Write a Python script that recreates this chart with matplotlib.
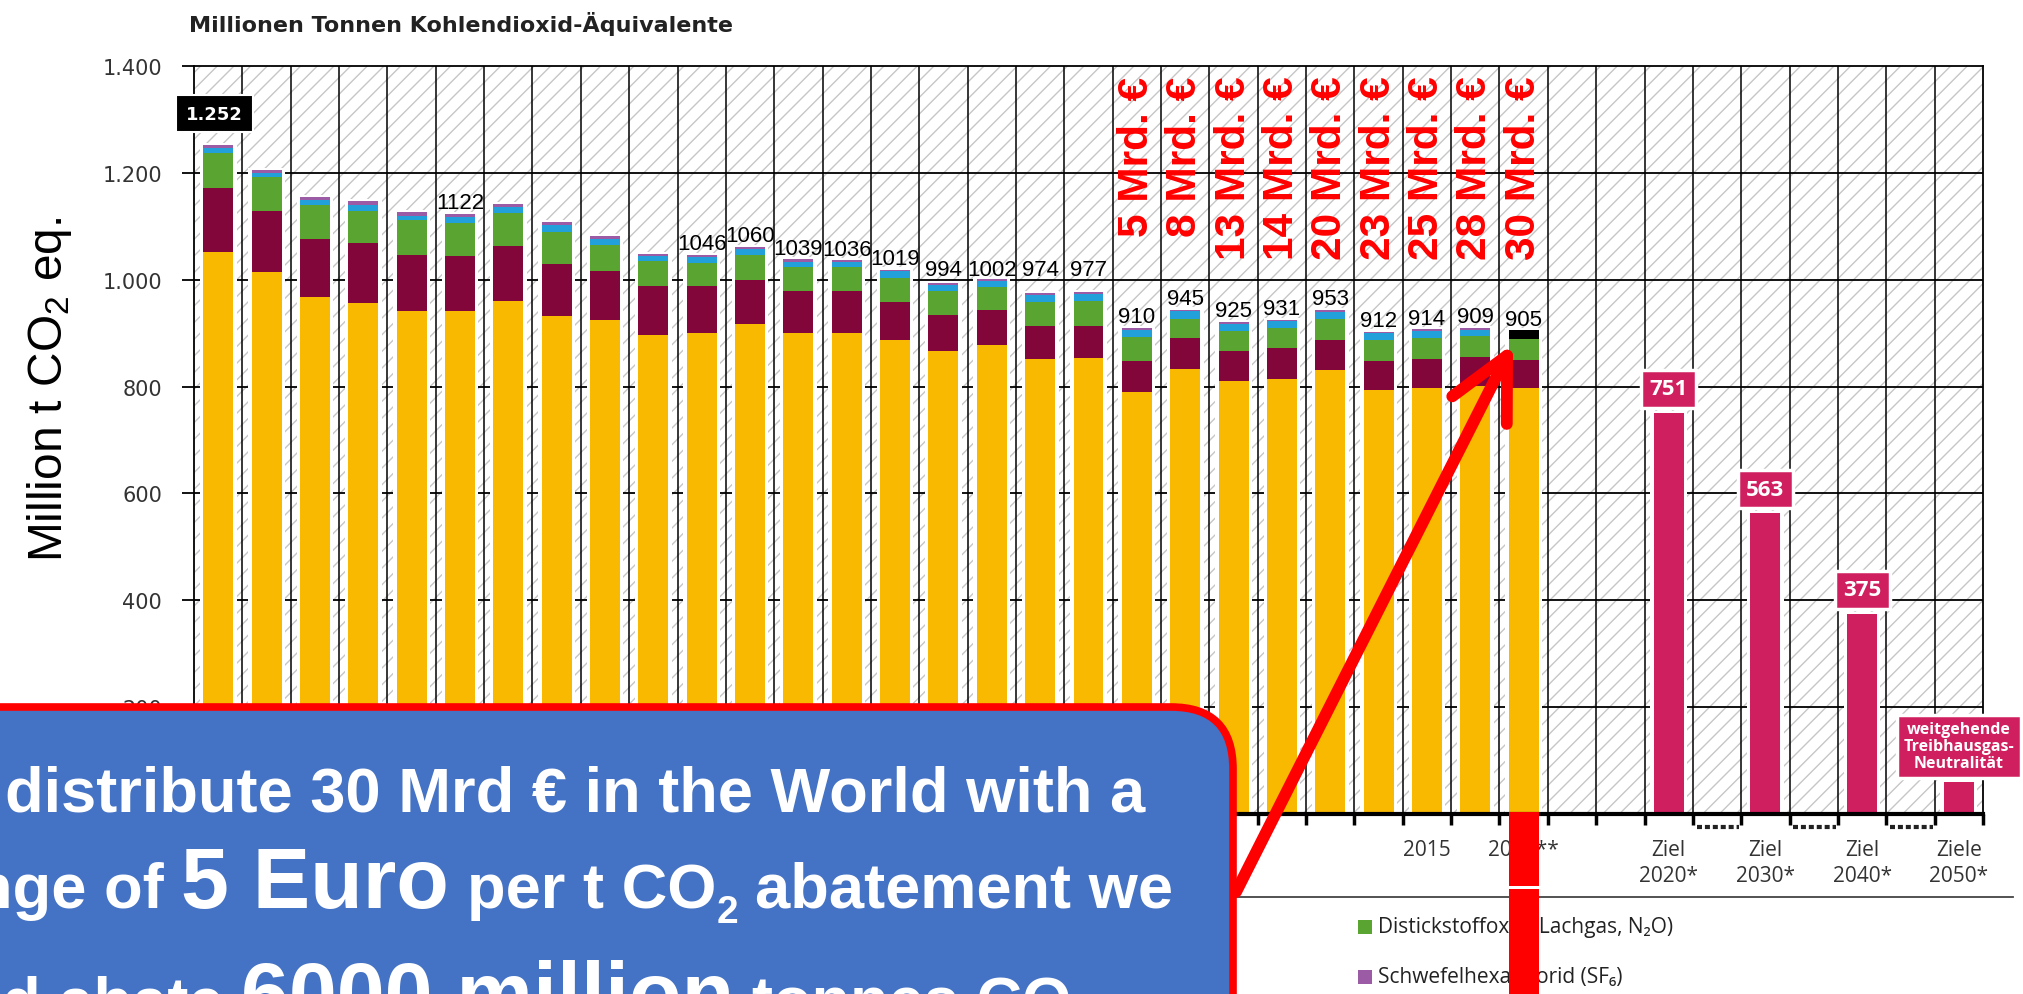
import numpy as np
import matplotlib.pyplot as plt
from matplotlib.patches import Rectangle, FancyBboxPatch, FancyArrowPatch

plt.rcParams['hatch.linewidth'] = 1.0
plt.rcParams['mathtext.fontset'] = 'custom'
plt.rcParams['mathtext.rm'] = 'Liberation Sans'

# Treibhausgas-Emissionen nach Gas, Mio t CO2-Aequivalente
years = list(range(1990, 2018))
co2 = [1052, 1014, 967, 956, 941, 941, 961, 932, 925, 897, 901, 917, 901, 901,
       887, 867, 878, 852, 854, 789, 832, 810, 814, 831, 794, 797, 802, 798]
ch4 = [120, 115, 110, 112, 106, 104, 102, 97, 92, 91, 87, 83, 78, 77,
       71, 67, 65, 62, 60, 58, 59, 56, 58, 56, 54, 54, 54, 52]
n2o = [66, 64, 63, 61, 64, 61, 62, 61, 48, 47, 43, 47, 44, 45,
       46, 44, 43, 45, 47, 45, 36, 38, 37, 40, 39, 40, 38, 39]
hfc = [8, 7, 9, 11, 9, 11, 11, 12, 11, 9, 11, 10, 11, 10,
       12, 13, 12, 13, 13, 14, 14, 14, 13, 13, 13, 13, 12, 0]
sf6 = [6, 5, 6, 7, 6, 6, 6, 6, 5, 4, 4, 4, 4, 3,
       3, 3, 3, 3, 3, 3, 3, 3, 3, 3, 3, 3, 3, 0]
estimate = [0] * 27 + [16]   # 2017** Schaetzung, schwarz

value_label_years = [1995, 2000, 2001, 2002, 2003, 2004, 2005, 2006, 2007, 2008,
                     2009, 2010, 2011, 2012, 2013, 2014, 2015, 2016, 2017]
value_labels = ['1122', '1046', '1060', '1039', '1036', '1019', '994', '1002', '974', '977',
                '910', '945', '925', '931', '953', '912', '914', '909', '905']

cost_years = list(range(2009, 2018))
cost_labels = ['5 Mrd. €', '8 Mrd. €', '13 Mrd. €', '14 Mrd. €', '20 Mrd. €',
               '23 Mrd. €', '25 Mrd. €', '28 Mrd. €', '30 Mrd. €']

# nur die sichtbaren Jahreslabels (der Rest liegt unter der blauen Box)
tick_years = [2015, 2017]
tick_labels = ['2015', '2017**']

target_names = ['Ziel\n2020*', 'Ziel\n2030*', 'Ziel\n2040*', 'Ziele\n2050*']
target_values = [751, 563, 375, 60]
target_labels = ['751', '563', '375', 'weitgehende\nTreibhausgas-\nNeutralität']

legend_names = ['Distickstoffoxid (Lachgas, N₂O)', 'Schwefelhexafluorid (SF₆)']

C_CO2 = '#F9B900'
C_CH4 = '#83063A'
C_N2O = '#5AA532'
C_HFC = '#22A0DA'
C_SF6 = '#9B5BA5'
C_TARGET = '#CF1F5E'
RED = '#FF0000'

W, H = 2023, 995
fig = plt.figure(figsize=(W / 100, H / 100), dpi=100)
renderer = fig.canvas.get_renderer()

n = len(years)
x = np.arange(n)
tx = n + 2 + 2 * np.arange(len(target_values))
ncols = tx[-1] + 1
bw = 0.62

ax = fig.add_axes([194 / W, 1 - 815 / H, 1789 / W, 748 / H])
ax.set_xlim(-0.5, ncols - 0.5)
ax.set_ylim(0, 1400)

# schraffierter Hintergrund + Raster
ax.add_patch(Rectangle((0, 0), 1, 1, transform=ax.transAxes, facecolor='white',
                       edgecolor='#c6c6c6', hatch='//', lw=0, zorder=0))
for yv in range(200, 1400, 200):
    ax.axhline(yv, color='black', lw=1.3, zorder=1)
for b in np.arange(0.5, ncols - 1, 1):
    ax.axvline(b, color='black', lw=1.1, zorder=1)

# gestapelte Balken
totals = np.sum([co2, ch4, n2o, hfc, sf6, estimate], axis=0)
ax.bar(x, totals + 4, width=bw + 0.14, color='white', lw=0, zorder=2)
bottom = np.zeros(n)
for vals, col in [(co2, C_CO2), (ch4, C_CH4), (n2o, C_N2O), (hfc, C_HFC),
                  (sf6, C_SF6), (estimate, 'black')]:
    ax.bar(x, vals, bottom=bottom, width=bw, color=col, lw=0, zorder=3)
    bottom += np.array(vals)

# Ziele
ax.bar(tx, np.array(target_values) + 4, width=bw + 0.14, color='white', lw=0, zorder=2)
ax.bar(tx, target_values, width=bw, color=C_TARGET, lw=0, zorder=3)
for xx, v, lab in zip(tx[:3], target_values[:3], target_labels[:3]):
    ax.text(xx, v + 45, lab, ha='center', va='center', color='white', fontsize=16,
            fontweight='bold', fontfamily='Open Sans', zorder=6,
            bbox=dict(boxstyle='square,pad=0.38', fc=C_TARGET, ec='white', lw=2.5))
ax.text(tx[3], 127, target_labels[3], ha='center', va='center', color='white', fontsize=11.5,
        fontweight='bold', fontfamily='Open Sans', linespacing=1.1, zorder=6, clip_on=False,
        bbox=dict(boxstyle='square,pad=0.4', fc=C_TARGET, ec='white', lw=2.5))

# Werte ueber den Balken
for yr, lab in zip(value_label_years, value_labels):
    i = years.index(yr)
    top = totals[i]
    base = 1008 if 955 < top < 1005 else top + 11
    ax.text(i, base, lab, ha='center', va='baseline', fontsize=16,
            fontfamily='Liberation Sans', zorder=6)
ax.text(x[0] - 0.08, 1311, f"{totals[0]:,}".replace(',', '.'), ha='center', va='center',
        color='white', fontsize=13, fontweight='bold', fontfamily='DejaVu Sans', zorder=6,
        bbox=dict(boxstyle='square,pad=0.55', fc='black', ec='white', lw=1.5))

# Kosten (rot, senkrecht)
for yr, lab in zip(cost_years, cost_labels):
    ax.text(years.index(yr), 1382, lab, rotation=90, ha='center', va='top', color=RED,
            fontsize=30.5, fontweight='bold', fontfamily='Liberation Sans', zorder=6)

# Achsen
yt = list(range(0, 1401, 200))
ax.set_yticks(yt)
ax.set_yticklabels([f"{v:,}".replace(',', '.') if v else '' for v in yt],
                   fontfamily='DejaVu Sans')
ax.tick_params(axis='y', length=9, width=1.3, pad=14, labelsize=15, labelcolor='#333333')

ax.set_xticks([years.index(y) for y in tick_years] + list(tx))
ax.set_xticklabels(tick_labels + target_names, fontsize=15, color='#333333',
                   linespacing=1.3, fontfamily='Open Sans')
ax.set_xticks(np.arange(-0.5, ncols, 1), minor=True)
ax.tick_params(axis='x', which='major', length=0, pad=18)
ax.tick_params(axis='x', which='minor', length=8, width=2.5, color='black')

for s in ax.spines.values():
    s.set_color('black')
    s.set_linewidth(1.3)
    s.set_zorder(5)
ax.spines['bottom'].set_linewidth(3)

# gepunktete Luecken zwischen den Zielen
for g in tx[:-1] + 1:
    ax.plot([g - 0.42, g + 0.46], [-25, -25], color='#222222', lw=3, ls=(0, (1.2, 0.7)),
            clip_on=False, zorder=5)

ax.set_ylabel('Million t CO$_2$ eq.', fontsize=34.5, fontfamily='Liberation Sans')
ax.yaxis.set_label_coords(-0.0810, 0.5695)
ax.yaxis.label.set_va('center')

# Overlay in Pixelkoordinaten
ov = fig.add_axes([0, 0, 1, 1], zorder=10)
ov.set_xlim(0, W)
ov.set_ylim(H, 0)
ov.set_axis_off()


def to_px(xd, yd):
    px, py = ax.transData.transform((xd, yd))
    return px, H - py


ov.text(189, 24, 'Millionen Tonnen Kohlendioxid-Äquivalente', ha='left', va='center',
        fontsize=16, fontweight='bold', fontfamily='DejaVu Sans', color='#222222')

# Legende (Rest unten abgeschnitten)
for k, (name, col) in enumerate(zip(legend_names, [C_N2O, C_SF6])):
    yy = 928 + 50 * k
    ov.add_patch(Rectangle((1358, yy - 7), 14, 14, color=col, lw=0, zorder=3))
    ov.text(1378, yy, name, ha='left', va='center', fontsize=15,
            fontfamily=['Open Sans', 'DejaVu Sans'], color='#222222', zorder=3)
ov.plot([150, 2013], [898, 898], color='#444444', lw=1.3, zorder=2)

# roter Balken unter 2017
x_l, y_ax = to_px(x[-1] - bw / 2, 0)
x_r, _ = to_px(x[-1] + bw / 2, 0)
ov.add_patch(Rectangle((x_l, y_ax - 2), x_r - x_l, 887 - y_ax + 2, color=RED, lw=0, zorder=4))
ov.add_patch(Rectangle((x_l, 890), x_r - x_l, 120, color=RED, lw=0, zorder=4))

# blaue Box
ov.add_patch(FancyBboxPatch((-80, 708), 1313, 400, boxstyle='round,pad=0,rounding_size=62',
                            fc='#4472C4', ec=RED, lw=5.5, zorder=6))


def write(pieces, x0, base):
    xx = x0
    for txt, size, dy in pieces:
        if txt == ' ':
            xx += 0.278 * size * 100 / 72
            continue
        t = ov.text(xx, base + dy, txt, fontsize=size, color='white', fontweight='bold',
                    fontfamily='Liberation Sans', ha='left', va='baseline', zorder=7)
        xx += t.get_window_extent(renderer).width


A, B, S = 45.5, 62, 28
write([('distribute 30 Mrd € in the World with a', A, 0)], 5, 811)
write([('nge of', A, 0), (' ', A, 0), ('5 Euro', B, 0), (' ', A, 0), ('per t CO', A, 0),
       ('2', S, 15), (' ', A, 0), ('abatement we', A, 0)], -26, 908)
write([('d abate', A, 0), (' ', A, 0), ('6000 million', B, 0), (' ', A, 0),
       ('tonnes CO', A, 0), ('2', S, 15)], 2, 1022)

# roter Pfeil
tip = to_px(x[-1] - 0.22, 880)
ov.add_patch(FancyArrowPatch((1236, 893), tip, arrowstyle='->,head_length=2.2,head_width=1.1',
                             mutation_scale=20, lw=8.5, color=RED, capstyle='round',
                             joinstyle='round', shrinkA=0, shrinkB=0, zorder=8))

fig.savefig('out.png', dpi=100)
